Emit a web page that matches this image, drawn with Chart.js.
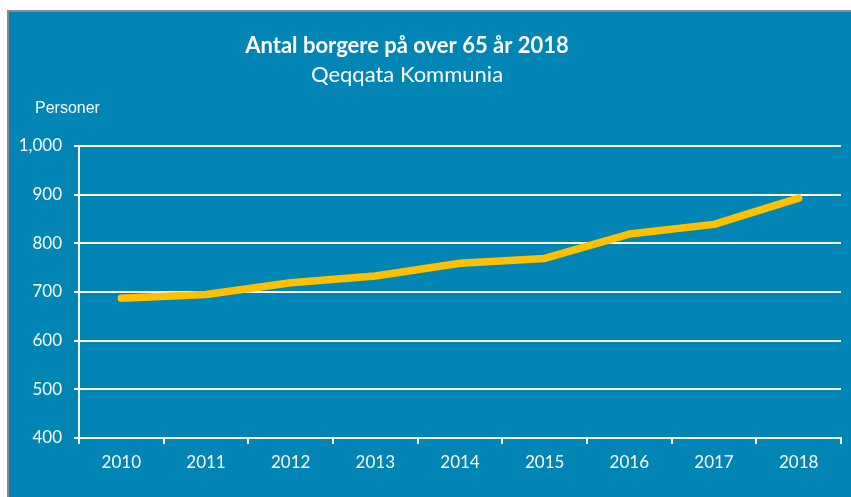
<!DOCTYPE html>
<html>
<head>
<meta charset="utf-8">
<script src="https://cdn.jsdelivr.net/npm/chart.js@4.4.0/dist/chart.umd.min.js"></script>
<style>
html,body{margin:0;padding:0;background:#fff;}
#wrap{position:relative;width:851px;height:497px;}
</style>
</head>
<body>
<div id="wrap"><canvas id="c" width="851" height="497"></canvas></div>
<script>
const categories = ['2010','2011','2012','2013','2014','2015','2016','2017','2018'];
const seriesValues = [687, 695, 719, 733, 759, 769, 819, 839, 893];
const yTicks = [400, 500, 600, 700, 800, 900, 1000];
const titleText = 'Antal borgere på over 65 år 2018';
const subtitleText = 'Qeqqata Kommunia';
const yAxisLabel = 'Personer';

const BLUE = '#0085B5';

const bgPlugin = {
  id: 'bg',
  beforeDraw(chart) {
    const ctx = chart.ctx;
    ctx.save();
    ctx.fillStyle = '#ffffff';
    ctx.fillRect(0, 0, chart.width, chart.height);
    ctx.fillStyle = '#8a8a8a';
    ctx.fillRect(7, 10, chart.width - 7, chart.height - 10);
    ctx.fillStyle = BLUE;
    ctx.fillRect(9, 12, chart.width - 9, chart.height - 12);
    ctx.restore();
  },
  afterDraw(chart) {
    const ctx = chart.ctx;
    ctx.save();
    ctx.fillStyle = '#ffffff';
    ctx.textAlign = 'center';
    ctx.textBaseline = 'alphabetic';
    ctx.font = 'bold 22px Lato';
    ctx.fillText(titleText, 407, 53);
    ctx.font = '22px Lato';
    ctx.fillText(subtitleText, 407, 82);
    ctx.textAlign = 'left';
    ctx.font = '16px "Liberation Sans"';
    ctx.fillText(yAxisLabel, 35, 113);
    ctx.restore();
  }
};

new Chart(document.getElementById('c'), {
  type: 'line',
  data: {
    labels: categories,
    datasets: [{
      data: seriesValues,
      borderColor: '#FFC000',
      borderWidth: 7.5,
      borderCapStyle: 'round',
      borderJoinStyle: 'round',
      pointRadius: 0,
      tension: 0,
      fill: false
    }]
  },
  options: {
    responsive: false,
    animation: false,
    events: [],
    layout: { padding: { left: 7, right: 10, top: 146, bottom: 10 } },
    plugins: { legend: { display: false }, tooltip: { enabled: false }, title: { display: false } },
    scales: {
      x: {
        type: 'category',
        offset: true,
        afterFit(s) { s.height = 49; },
        grid: {
          offset: true,
          drawOnChartArea: true,
          color: (c) => c.index === categories.length ? '#ffffff' : 'rgba(0,0,0,0)',
          tickColor: '#ffffff',
          tickLength: 6,
          lineWidth: 2
        },
        border: { display: true, color: '#ffffff', width: 2 },
        ticks: { color: '#ffffff', font: { family: 'Lato', size: 17 }, padding: 8, maxRotation: 0 }
      },
      y: {
        min: 400,
        max: 1000,
        afterFit(s) { s.width = 72; },
        afterBuildTicks(s) { s.ticks = yTicks.map(v => ({ value: v })); },
        grid: { color: '#ffffff', lineWidth: 2, tickLength: 5, tickColor: '#ffffff' },
        border: { display: true, color: '#ffffff', width: 2 },
        ticks: {
          color: '#ffffff',
          font: { family: 'Lato', size: 17 },
          padding: 12,
          callback: (v) => v.toLocaleString('en-US')
        }
      }
    }
  },
  plugins: [bgPlugin]
});
</script>
</body>
</html>
